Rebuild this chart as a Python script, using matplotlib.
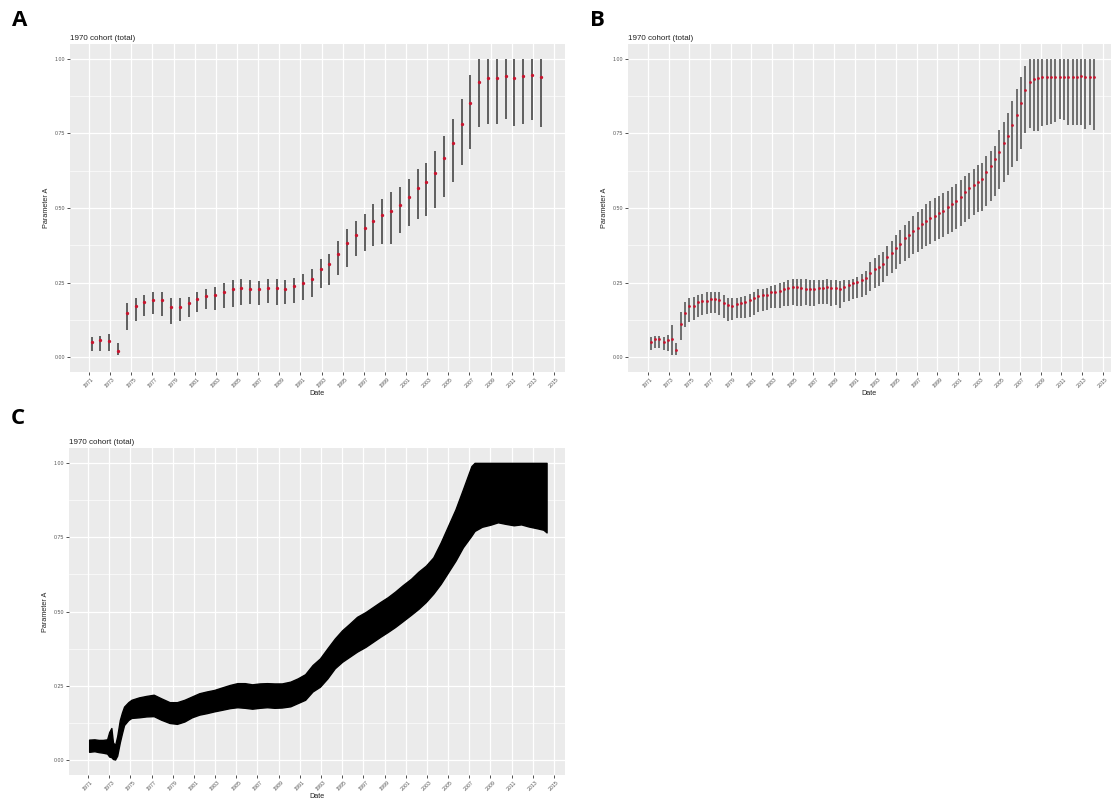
import numpy as np
import pandas as pd
import matplotlib
matplotlib.use("Agg")
import matplotlib.pyplot as plt

plt.rcParams['font.family'] = ['Liberation Sans', 'DejaVu Sans']

# ---------------- text ----------------
title_text = "1970 cohort (total)"
x_label = "Date"
y_label = "Parameter A"
panel_labels = ["A", "B", "C"]
year_ticks = list(range(1971, 2016, 2))
y_ticks = [0.0, 0.25, 0.5, 0.75, 1.0]
y_tick_labels = ["0.00", "0.25", "0.50", "0.75", "1.00"]

# ---------------- panel A: every 10 months ----------------
dates_A = pd.date_range("1971-04-01", periods=52, freq="10MS")
mid_A = [0.049, 0.058, 0.054, 0.019, 0.147, 0.171, 0.186, 0.193, 0.191, 0.169,
         0.169, 0.180, 0.194, 0.204, 0.208, 0.219, 0.228, 0.232, 0.228, 0.228,
         0.232, 0.232, 0.228, 0.237, 0.247, 0.262, 0.294, 0.313, 0.347, 0.383,
         0.410, 0.432, 0.458, 0.477, 0.491, 0.511, 0.538, 0.566, 0.586, 0.617,
         0.668, 0.717, 0.783, 0.852, 0.924, 0.936, 0.936, 0.944, 0.936, 0.944,
         0.947, 0.938]
lo_A = [0.021, 0.021, 0.019, 0.006, 0.091, 0.121, 0.139, 0.143, 0.137, 0.110,
        0.121, 0.136, 0.150, 0.160, 0.158, 0.166, 0.169, 0.174, 0.177, 0.174,
        0.180, 0.174, 0.177, 0.182, 0.191, 0.200, 0.231, 0.242, 0.274, 0.302,
        0.338, 0.356, 0.374, 0.380, 0.380, 0.417, 0.441, 0.463, 0.474, 0.500,
        0.538, 0.586, 0.643, 0.699, 0.772, 0.783, 0.783, 0.799, 0.774, 0.783,
        0.794, 0.772]
hi_A = [0.069, 0.071, 0.078, 0.047, 0.180, 0.197, 0.208, 0.219, 0.219, 0.199,
        0.197, 0.202, 0.219, 0.230, 0.236, 0.249, 0.258, 0.261, 0.258, 0.256,
        0.261, 0.261, 0.258, 0.266, 0.279, 0.294, 0.330, 0.347, 0.388, 0.428,
        0.458, 0.480, 0.513, 0.530, 0.552, 0.572, 0.597, 0.630, 0.652, 0.691,
        0.741, 0.797, 0.866, 0.947, 1.000, 1.000, 1.000, 1.000, 1.000, 1.000,
        1.000, 1.000]

# ---------------- panel B: every 5 months ----------------
dates_B = pd.date_range("1971-04-01", periods=104, freq="5MS")
mid_B = [0.052, 0.061, 0.061, 0.050, 0.058, 0.061, 0.024, 0.110, 0.149, 0.172,
         0.172, 0.186, 0.188, 0.188, 0.194, 0.194, 0.191, 0.180, 0.174, 0.172,
         0.177, 0.180, 0.186, 0.191, 0.197, 0.206, 0.208, 0.208, 0.217, 0.217,
         0.221, 0.228, 0.232, 0.236, 0.236, 0.232, 0.230, 0.230, 0.230, 0.232,
         0.232, 0.236, 0.233, 0.232, 0.230, 0.236, 0.241, 0.247, 0.252, 0.258,
         0.266, 0.283, 0.294, 0.302, 0.313, 0.336, 0.350, 0.367, 0.380, 0.399,
         0.408, 0.422, 0.432, 0.447, 0.458, 0.466, 0.474, 0.483, 0.491, 0.502,
         0.513, 0.524, 0.538, 0.552, 0.566, 0.577, 0.588, 0.597, 0.621, 0.641,
         0.663, 0.688, 0.717, 0.743, 0.777, 0.813, 0.852, 0.897, 0.924, 0.932,
         0.936, 0.939, 0.939, 0.939, 0.939, 0.941, 0.941, 0.939, 0.939, 0.941,
         0.944, 0.939, 0.939, 0.939]
lo_B = [0.024, 0.030, 0.030, 0.024, 0.019, 0.006, 0.006, 0.058, 0.102, 0.119,
        0.124, 0.136, 0.141, 0.143, 0.147, 0.147, 0.141, 0.130, 0.121, 0.124,
        0.130, 0.130, 0.132, 0.136, 0.141, 0.150, 0.154, 0.158, 0.163, 0.163,
        0.166, 0.172, 0.172, 0.174, 0.172, 0.172, 0.174, 0.172, 0.172, 0.177,
        0.177, 0.177, 0.172, 0.174, 0.166, 0.186, 0.189, 0.194, 0.197, 0.202,
        0.208, 0.221, 0.232, 0.239, 0.252, 0.271, 0.283, 0.297, 0.313, 0.321,
        0.332, 0.347, 0.352, 0.363, 0.374, 0.380, 0.388, 0.397, 0.402, 0.413,
        0.421, 0.430, 0.441, 0.452, 0.463, 0.477, 0.486, 0.491, 0.508, 0.524,
        0.541, 0.563, 0.586, 0.610, 0.636, 0.658, 0.697, 0.752, 0.769, 0.758,
        0.758, 0.774, 0.780, 0.783, 0.788, 0.797, 0.794, 0.780, 0.780, 0.780,
        0.780, 0.766, 0.780, 0.763]
hi_B = [0.069, 0.071, 0.071, 0.066, 0.074, 0.106, 0.047, 0.152, 0.186, 0.197,
        0.202, 0.208, 0.213, 0.217, 0.219, 0.219, 0.219, 0.208, 0.197, 0.197,
        0.199, 0.202, 0.204, 0.210, 0.219, 0.228, 0.230, 0.232, 0.239, 0.243,
        0.247, 0.252, 0.258, 0.261, 0.261, 0.261, 0.261, 0.258, 0.258, 0.258,
        0.260, 0.263, 0.260, 0.258, 0.254, 0.258, 0.260, 0.263, 0.269, 0.280,
        0.288, 0.319, 0.332, 0.341, 0.352, 0.374, 0.391, 0.410, 0.427, 0.443,
        0.458, 0.472, 0.486, 0.497, 0.513, 0.524, 0.532, 0.541, 0.550, 0.558,
        0.569, 0.580, 0.594, 0.608, 0.619, 0.632, 0.643, 0.652, 0.674, 0.691,
        0.708, 0.760, 0.790, 0.820, 0.860, 0.900, 0.940, 0.975, 1.000, 1.000,
        1.000, 1.000, 1.000, 1.000, 1.000, 1.000, 1.000, 1.000, 1.000, 1.000,
        1.000, 1.000, 1.000, 1.000]

# ---------------- panel C: dense series, envelope of the bars ----------------
years_C = [1971.1, 1971.6, 1972.0, 1972.4, 1972.8, 1973.0, 1973.2, 1973.35, 1973.55,
           1973.75, 1974.0, 1974.2, 1974.4, 1974.8, 1975.1, 1975.8, 1976.5, 1977.2,
           1977.9, 1978.7, 1979.4, 1980.1, 1980.8, 1981.5, 1982.2, 1982.9, 1983.6,
           1984.4, 1985.1, 1985.8, 1986.5, 1987.2, 1987.9, 1988.6, 1989.3, 1990.1,
           1990.8, 1991.5, 1992.2, 1992.9, 1993.6, 1994.3, 1995.0, 1995.7, 1996.4,
           1997.2, 1997.9, 1998.6, 1999.3, 2000.0, 2000.7, 2001.5, 2002.2, 2002.9,
           2003.6, 2004.3, 2005.0, 2005.7, 2006.4, 2007.2, 2007.5, 2008.2, 2009.0,
           2009.7, 2010.4, 2011.2, 2011.9, 2012.6, 2013.4, 2014.0, 2014.3]
hi_C = [0.069, 0.070, 0.068, 0.068, 0.070, 0.095, 0.108, 0.060, 0.050,
        0.080, 0.135, 0.160, 0.180, 0.195, 0.203, 0.211, 0.216, 0.220,
        0.208, 0.195, 0.195, 0.203, 0.214, 0.225, 0.231, 0.236, 0.244,
        0.253, 0.259, 0.259, 0.255, 0.258, 0.259, 0.258, 0.258, 0.264,
        0.275, 0.289, 0.320, 0.342, 0.376, 0.409, 0.437, 0.459, 0.482,
        0.498, 0.515, 0.532, 0.548, 0.567, 0.588, 0.610, 0.634, 0.654,
        0.682, 0.732, 0.788, 0.844, 0.911, 0.989, 1.000, 1.000, 1.000,
        1.000, 1.000, 1.000, 1.000, 1.000, 1.000, 1.000, 1.000]
lo_C = [0.028, 0.030, 0.027, 0.025, 0.022, 0.012, 0.010, 0.004, 0.002,
        0.015, 0.060, 0.090, 0.118, 0.135, 0.142, 0.144, 0.147, 0.148,
        0.136, 0.125, 0.122, 0.130, 0.144, 0.153, 0.158, 0.164, 0.169,
        0.175, 0.178, 0.176, 0.173, 0.176, 0.178, 0.176, 0.177, 0.181,
        0.192, 0.203, 0.231, 0.247, 0.275, 0.309, 0.331, 0.348, 0.365,
        0.381, 0.398, 0.415, 0.431, 0.448, 0.467, 0.489, 0.509, 0.532,
        0.560, 0.593, 0.632, 0.671, 0.716, 0.755, 0.771, 0.785, 0.792,
        0.800, 0.795, 0.790, 0.793, 0.786, 0.780, 0.775, 0.766]


def dec_year(dates):
    return np.array([d.year + (d.dayofyear - 1) / 365.25 for d in dates])


W, H = 1118, 801
fig = plt.figure(figsize=(W / 100, H / 100), dpi=100)
fig.patch.set_facecolor("white")


def px_axes(x0, y0, x1, y1):
    return fig.add_axes([x0 / W, 1 - y1 / H, (x1 - x0) / W, (y1 - y0) / H])


def style(ax, xlim):
    ax.set_facecolor("#EBEBEB")
    ax.set_xlim(*xlim)
    ax.set_ylim(-0.05, 1.05)
    for s in ax.spines.values():
        s.set_visible(False)
    ax.set_xticks(year_ticks)
    ax.set_xticklabels([str(y) for y in year_ticks], rotation=45,
                       ha="center", va="top")
    ax.set_yticks(y_ticks)
    ax.set_yticklabels(y_tick_labels)
    ax.set_yticks([0.125, 0.375, 0.625, 0.875], minor=True)
    ax.tick_params(axis="both", which="major", length=2, width=0.6,
                   color="#333333", labelsize=3.8, labelcolor="#555555", pad=1.5)
    ax.tick_params(axis="y", which="minor", length=0)
    ax.grid(True, which="major", color="white", lw=0.9)
    ax.grid(True, which="minor", axis="y", color="white", lw=0.45)
    ax.set_axisbelow(True)
    ax.set_title(title_text, loc="left", fontsize=5.8, pad=3, color="#222222")
    ax.set_xlabel(x_label, fontsize=5.2, labelpad=1, color="#222222")
    ax.set_ylabel(y_label, fontsize=5.2, labelpad=3, color="#222222")


# Panel A
axA = px_axes(70, 44, 565, 372)
style(axA, (1969.2, 2016.04))
xA = dec_year(dates_A)
axA.vlines(xA, lo_A, hi_A, color="#595959", lw=1.35, zorder=2)
axA.plot(xA, mid_A, "o", color="#C8142E", ms=2.4, mec="none", zorder=3)

# Panel B
axB = px_axes(628, 44, 1111, 372)
style(axB, (1969.06, 2015.8))
xB = dec_year(dates_B)
axB.vlines(xB, lo_B, hi_B, color="#595959", lw=1.2, zorder=2)
axB.plot(xB, mid_B, "o", color="#C8142E", ms=2.0, mec="none", zorder=3)

# Panel C
axC = px_axes(69, 448, 565, 775)
style(axC, (1969.2, 2016.04))
axC.fill_between(years_C, lo_C, hi_C, color="black", lw=1.0,
                 edgecolor="black", zorder=2)

# Panel letters
fig.text(20 / W, 1 - 20 / H, panel_labels[0], fontsize=16, weight="bold",
         family=["Open Sans", "DejaVu Sans"], ha="center", va="center")
fig.text(597 / W, 1 - 20 / H, panel_labels[1], fontsize=16, weight="bold",
         family=["Open Sans", "DejaVu Sans"], ha="center", va="center")
fig.text(18 / W, 1 - 418 / H, panel_labels[2], fontsize=16, weight="bold",
         family=["Open Sans", "DejaVu Sans"], ha="center", va="center")

fig.savefig("out.png", dpi=100, facecolor="white")
